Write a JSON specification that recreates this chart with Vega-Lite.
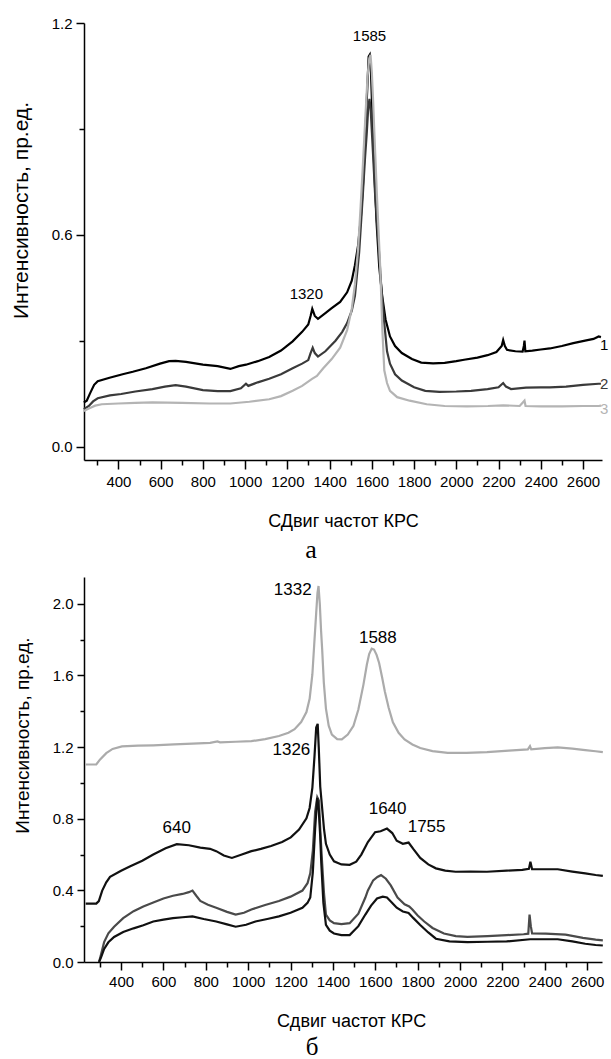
{
  "$schema": "https://vega.github.io/schema/vega-lite/v6.json",
  "padding": {"left": 10, "top": 16, "right": 5, "bottom": 2},
  "spacing": 14,
  "config": {
    "view": {"stroke": null},
    "font": "Liberation Sans",
    "axis": {
      "labelFont": "Liberation Sans",
      "titleFont": "Liberation Sans",
      "labelFontSize": 15,
      "titleFontSize": 18,
      "titleFontWeight": "normal",
      "labelColor": "#000000",
      "titleColor": "#000000",
      "domainColor": "#000000",
      "tickColor": "#000000",
      "domainWidth": 1.5,
      "tickWidth": 1.5,
      "grid": false,
      "labelOverlap": false,
      "labelFlush": false,
      "tickCount": 100
    }
  },
  "datasets": {
    "a": [
      {"s":"1","x":236,"y":0.125},{"s":"1","x":250,"y":0.13},{"s":"1","x":265,"y":0.15},{"s":"1","x":285,"y":0.175},{"s":"1","x":302,"y":0.185},{"s":"1","x":358,"y":0.195},{"s":"1","x":420,"y":0.205},{"s":"1","x":468,"y":0.212},{"s":"1","x":530,"y":0.222},{"s":"1","x":597,"y":0.235},{"s":"1","x":640,"y":0.242},{"s":"1","x":671,"y":0.243},{"s":"1","x":720,"y":0.24},{"s":"1","x":800,"y":0.232},{"s":"1","x":870,"y":0.228},{"s":"1","x":930,"y":0.22},{"s":"1","x":970,"y":0.228},{"s":"1","x":1004,"y":0.232},{"s":"1","x":1060,"y":0.242},{"s":"1","x":1114,"y":0.254},{"s":"1","x":1170,"y":0.272},{"s":"1","x":1225,"y":0.298},{"s":"1","x":1270,"y":0.325},{"s":"1","x":1299,"y":0.346},{"s":"1","x":1310,"y":0.37},{"s":"1","x":1318,"y":0.39},{"s":"1","x":1330,"y":0.37},{"s":"1","x":1345,"y":0.362},{"s":"1","x":1380,"y":0.378},{"s":"1","x":1410,"y":0.392},{"s":"1","x":1450,"y":0.41},{"s":"1","x":1483,"y":0.437},{"s":"1","x":1505,"y":0.47},{"s":"1","x":1520,"y":0.514},{"s":"1","x":1535,"y":0.57},{"s":"1","x":1548,"y":0.648},{"s":"1","x":1558,"y":0.74},{"s":"1","x":1566,"y":0.84},{"s":"1","x":1576,"y":0.98},{"s":"1","x":1585,"y":1.105},{"s":"1","x":1590,"y":1.11},{"s":"1","x":1596,"y":1.06},{"s":"1","x":1603,"y":0.936},{"s":"1","x":1612,"y":0.78},{"s":"1","x":1622,"y":0.64},{"s":"1","x":1635,"y":0.51},{"s":"1","x":1649,"y":0.427},{"s":"1","x":1665,"y":0.36},{"s":"1","x":1686,"y":0.312},{"s":"1","x":1710,"y":0.285},{"s":"1","x":1742,"y":0.265},{"s":"1","x":1790,"y":0.248},{"s":"1","x":1834,"y":0.238},{"s":"1","x":1890,"y":0.236},{"s":"1","x":1945,"y":0.237},{"s":"1","x":2000,"y":0.242},{"s":"1","x":2037,"y":0.246},{"s":"1","x":2100,"y":0.252},{"s":"1","x":2148,"y":0.259},{"s":"1","x":2190,"y":0.268},{"s":"1","x":2215,"y":0.285},{"s":"1","x":2222,"y":0.302},{"s":"1","x":2230,"y":0.285},{"s":"1","x":2240,"y":0.274},{"s":"1","x":2280,"y":0.27},{"s":"1","x":2314,"y":0.269},{"s":"1","x":2320,"y":0.285},{"s":"1","x":2323,"y":0.3},{"s":"1","x":2327,"y":0.27},{"s":"1","x":2360,"y":0.272},{"s":"1","x":2400,"y":0.275},{"s":"1","x":2443,"y":0.278},{"s":"1","x":2500,"y":0.285},{"s":"1","x":2554,"y":0.293},{"s":"1","x":2610,"y":0.3},{"s":"1","x":2650,"y":0.305},{"s":"1","x":2674,"y":0.312},{"s":"1","x":2685,"y":0.31},
      {"s":"2","x":236,"y":0.106},{"s":"2","x":260,"y":0.115},{"s":"2","x":280,"y":0.128},{"s":"2","x":302,"y":0.137},{"s":"2","x":360,"y":0.145},{"s":"2","x":413,"y":0.149},{"s":"2","x":480,"y":0.156},{"s":"2","x":561,"y":0.163},{"s":"2","x":620,"y":0.17},{"s":"2","x":671,"y":0.174},{"s":"2","x":720,"y":0.17},{"s":"2","x":800,"y":0.16},{"s":"2","x":870,"y":0.157},{"s":"2","x":930,"y":0.157},{"s":"2","x":980,"y":0.165},{"s":"2","x":1004,"y":0.178},{"s":"2","x":1015,"y":0.172},{"s":"2","x":1060,"y":0.182},{"s":"2","x":1114,"y":0.192},{"s":"2","x":1170,"y":0.205},{"s":"2","x":1225,"y":0.222},{"s":"2","x":1270,"y":0.235},{"s":"2","x":1299,"y":0.245},{"s":"2","x":1310,"y":0.265},{"s":"2","x":1320,"y":0.28},{"s":"2","x":1330,"y":0.265},{"s":"2","x":1345,"y":0.255},{"s":"2","x":1380,"y":0.27},{"s":"2","x":1428,"y":0.3},{"s":"2","x":1460,"y":0.325},{"s":"2","x":1483,"y":0.35},{"s":"2","x":1505,"y":0.385},{"s":"2","x":1520,"y":0.427},{"s":"2","x":1540,"y":0.55},{"s":"2","x":1557,"y":0.71},{"s":"2","x":1568,"y":0.82},{"s":"2","x":1576,"y":0.888},{"s":"2","x":1583,"y":0.96},{"s":"2","x":1589,"y":0.985},{"s":"2","x":1595,"y":0.95},{"s":"2","x":1603,"y":0.86},{"s":"2","x":1615,"y":0.72},{"s":"2","x":1631,"y":0.58},{"s":"2","x":1645,"y":0.45},{"s":"2","x":1659,"y":0.35},{"s":"2","x":1672,"y":0.27},{"s":"2","x":1686,"y":0.235},{"s":"2","x":1710,"y":0.205},{"s":"2","x":1742,"y":0.187},{"s":"2","x":1800,"y":0.168},{"s":"2","x":1853,"y":0.158},{"s":"2","x":1920,"y":0.155},{"s":"2","x":2000,"y":0.156},{"s":"2","x":2070,"y":0.158},{"s":"2","x":2148,"y":0.163},{"s":"2","x":2200,"y":0.168},{"s":"2","x":2222,"y":0.18},{"s":"2","x":2235,"y":0.17},{"s":"2","x":2259,"y":0.163},{"s":"2","x":2330,"y":0.167},{"s":"2","x":2400,"y":0.168},{"s":"2","x":2443,"y":0.168},{"s":"2","x":2520,"y":0.17},{"s":"2","x":2600,"y":0.175},{"s":"2","x":2674,"y":0.178},{"s":"2","x":2685,"y":0.178},
      {"s":"3","x":236,"y":0.101},{"s":"3","x":260,"y":0.108},{"s":"3","x":290,"y":0.116},{"s":"3","x":321,"y":0.12},{"s":"3","x":400,"y":0.122},{"s":"3","x":480,"y":0.124},{"s":"3","x":561,"y":0.125},{"s":"3","x":700,"y":0.124},{"s":"3","x":830,"y":0.122},{"s":"3","x":930,"y":0.122},{"s":"3","x":1020,"y":0.127},{"s":"3","x":1114,"y":0.134},{"s":"3","x":1170,"y":0.143},{"s":"3","x":1225,"y":0.158},{"s":"3","x":1270,"y":0.172},{"s":"3","x":1317,"y":0.192},{"s":"3","x":1340,"y":0.2},{"s":"3","x":1370,"y":0.222},{"s":"3","x":1410,"y":0.248},{"s":"3","x":1450,"y":0.28},{"s":"3","x":1483,"y":0.33},{"s":"3","x":1505,"y":0.39},{"s":"3","x":1520,"y":0.46},{"s":"3","x":1535,"y":0.56},{"s":"3","x":1547,"y":0.68},{"s":"3","x":1557,"y":0.79},{"s":"3","x":1570,"y":0.94},{"s":"3","x":1580,"y":1.05},{"s":"3","x":1588,"y":1.1},{"s":"3","x":1594,"y":1.11},{"s":"3","x":1600,"y":1.06},{"s":"3","x":1606,"y":0.98},{"s":"3","x":1612,"y":0.888},{"s":"3","x":1625,"y":0.7},{"s":"3","x":1640,"y":0.504},{"s":"3","x":1650,"y":0.33},{"s":"3","x":1659,"y":0.216},{"s":"3","x":1672,"y":0.18},{"s":"3","x":1686,"y":0.158},{"s":"3","x":1720,"y":0.14},{"s":"3","x":1779,"y":0.13},{"s":"3","x":1860,"y":0.12},{"s":"3","x":1945,"y":0.115},{"s":"3","x":2050,"y":0.114},{"s":"3","x":2150,"y":0.115},{"s":"3","x":2222,"y":0.117},{"s":"3","x":2300,"y":0.115},{"s":"3","x":2323,"y":0.13},{"s":"3","x":2328,"y":0.115},{"s":"3","x":2400,"y":0.114},{"s":"3","x":2500,"y":0.114},{"s":"3","x":2600,"y":0.115},{"s":"3","x":2674,"y":0.115},{"s":"3","x":2685,"y":0.116}
    ],
    "la": [
      {"t":"1585","x":1589,"y":1.162,"c":"k"},
      {"t":"1320","x":1290,"y":0.432,"c":"k"},
      {"t":"1","x":2700,"y":0.288,"c":"1"},
      {"t":"2","x":2700,"y":0.178,"c":"2"},
      {"t":"3","x":2700,"y":0.106,"c":"3"}
    ],
    "b": [
      {"s":"A","x":233,"y":1.103},{"s":"A","x":283,"y":1.103},{"s":"A","x":300,"y":1.13},{"s":"A","x":330,"y":1.166},{"s":"A","x":360,"y":1.19},{"s":"A","x":404,"y":1.204},{"s":"A","x":480,"y":1.208},{"s":"A","x":552,"y":1.21},{"s":"A","x":650,"y":1.215},{"s":"A","x":737,"y":1.22},{"s":"A","x":820,"y":1.224},{"s":"A","x":855,"y":1.232},{"s":"A","x":867,"y":1.227},{"s":"A","x":940,"y":1.23},{"s":"A","x":1015,"y":1.233},{"s":"A","x":1080,"y":1.245},{"s":"A","x":1145,"y":1.262},{"s":"A","x":1190,"y":1.28},{"s":"A","x":1219,"y":1.3},{"s":"A","x":1250,"y":1.34},{"s":"A","x":1275,"y":1.396},{"s":"A","x":1290,"y":1.47},{"s":"A","x":1303,"y":1.607},{"s":"A","x":1312,"y":1.78},{"s":"A","x":1321,"y":1.95},{"s":"A","x":1327,"y":2.06},{"s":"A","x":1332,"y":2.1},{"s":"A","x":1338,"y":2.0},{"s":"A","x":1344,"y":1.85},{"s":"A","x":1349,"y":1.75},{"s":"A","x":1357,"y":1.56},{"s":"A","x":1367,"y":1.415},{"s":"A","x":1380,"y":1.32},{"s":"A","x":1395,"y":1.27},{"s":"A","x":1420,"y":1.245},{"s":"A","x":1442,"y":1.243},{"s":"A","x":1470,"y":1.27},{"s":"A","x":1497,"y":1.319},{"s":"A","x":1520,"y":1.41},{"s":"A","x":1544,"y":1.549},{"s":"A","x":1560,"y":1.66},{"s":"A","x":1571,"y":1.72},{"s":"A","x":1583,"y":1.75},{"s":"A","x":1594,"y":1.745},{"s":"A","x":1606,"y":1.715},{"s":"A","x":1618,"y":1.67},{"s":"A","x":1632,"y":1.59},{"s":"A","x":1645,"y":1.511},{"s":"A","x":1663,"y":1.42},{"s":"A","x":1683,"y":1.338},{"s":"A","x":1710,"y":1.28},{"s":"A","x":1738,"y":1.243},{"s":"A","x":1775,"y":1.215},{"s":"A","x":1812,"y":1.195},{"s":"A","x":1870,"y":1.178},{"s":"A","x":1942,"y":1.168},{"s":"A","x":2030,"y":1.168},{"s":"A","x":2127,"y":1.172},{"s":"A","x":2230,"y":1.18},{"s":"A","x":2320,"y":1.187},{"s":"A","x":2330,"y":1.205},{"s":"A","x":2336,"y":1.187},{"s":"A","x":2400,"y":1.194},{"s":"A","x":2461,"y":1.198},{"s":"A","x":2530,"y":1.192},{"s":"A","x":2591,"y":1.183},{"s":"A","x":2640,"y":1.177},{"s":"A","x":2674,"y":1.172},
      {"s":"B","x":233,"y":0.326},{"s":"B","x":283,"y":0.326},{"s":"B","x":295,"y":0.34},{"s":"B","x":311,"y":0.399},{"s":"B","x":330,"y":0.445},{"s":"B","x":348,"y":0.476},{"s":"B","x":400,"y":0.51},{"s":"B","x":441,"y":0.533},{"s":"B","x":500,"y":0.565},{"s":"B","x":552,"y":0.6},{"s":"B","x":610,"y":0.635},{"s":"B","x":663,"y":0.658},{"s":"B","x":720,"y":0.652},{"s":"B","x":774,"y":0.639},{"s":"B","x":820,"y":0.632},{"s":"B","x":849,"y":0.619},{"s":"B","x":885,"y":0.595},{"s":"B","x":923,"y":0.581},{"s":"B","x":970,"y":0.6},{"s":"B","x":1015,"y":0.619},{"s":"B","x":1060,"y":0.632},{"s":"B","x":1108,"y":0.648},{"s":"B","x":1160,"y":0.67},{"s":"B","x":1201,"y":0.696},{"s":"B","x":1240,"y":0.74},{"s":"B","x":1275,"y":0.802},{"s":"B","x":1290,"y":0.86},{"s":"B","x":1303,"y":0.974},{"s":"B","x":1313,"y":1.15},{"s":"B","x":1321,"y":1.31},{"s":"B","x":1328,"y":1.33},{"s":"B","x":1333,"y":1.2},{"s":"B","x":1340,"y":0.98},{"s":"B","x":1349,"y":0.86},{"s":"B","x":1358,"y":0.74},{"s":"B","x":1367,"y":0.66},{"s":"B","x":1385,"y":0.6},{"s":"B","x":1405,"y":0.562},{"s":"B","x":1440,"y":0.545},{"s":"B","x":1479,"y":0.543},{"s":"B","x":1510,"y":0.56},{"s":"B","x":1534,"y":0.6},{"s":"B","x":1565,"y":0.67},{"s":"B","x":1599,"y":0.725},{"s":"B","x":1625,"y":0.73},{"s":"B","x":1655,"y":0.745},{"s":"B","x":1680,"y":0.72},{"s":"B","x":1701,"y":0.677},{"s":"B","x":1730,"y":0.66},{"s":"B","x":1757,"y":0.667},{"s":"B","x":1780,"y":0.63},{"s":"B","x":1812,"y":0.581},{"s":"B","x":1850,"y":0.545},{"s":"B","x":1886,"y":0.523},{"s":"B","x":1930,"y":0.51},{"s":"B","x":1979,"y":0.504},{"s":"B","x":2050,"y":0.505},{"s":"B","x":2127,"y":0.504},{"s":"B","x":2220,"y":0.51},{"s":"B","x":2294,"y":0.514},{"s":"B","x":2325,"y":0.52},{"s":"B","x":2332,"y":0.56},{"s":"B","x":2340,"y":0.518},{"s":"B","x":2400,"y":0.518},{"s":"B","x":2461,"y":0.518},{"s":"B","x":2530,"y":0.505},{"s":"B","x":2591,"y":0.495},{"s":"B","x":2640,"y":0.486},{"s":"B","x":2674,"y":0.481},
      {"s":"C","x":296,"y":0.0},{"s":"C","x":305,"y":0.04},{"s":"C","x":320,"y":0.111},{"s":"C","x":340,"y":0.16},{"s":"C","x":367,"y":0.197},{"s":"C","x":410,"y":0.245},{"s":"C","x":459,"y":0.284},{"s":"C","x":505,"y":0.31},{"s":"C","x":552,"y":0.332},{"s":"C","x":600,"y":0.355},{"s":"C","x":645,"y":0.37},{"s":"C","x":690,"y":0.38},{"s":"C","x":720,"y":0.39},{"s":"C","x":737,"y":0.399},{"s":"C","x":755,"y":0.37},{"s":"C","x":774,"y":0.341},{"s":"C","x":810,"y":0.32},{"s":"C","x":849,"y":0.303},{"s":"C","x":900,"y":0.28},{"s":"C","x":941,"y":0.265},{"s":"C","x":980,"y":0.275},{"s":"C","x":1015,"y":0.293},{"s":"C","x":1080,"y":0.318},{"s":"C","x":1145,"y":0.341},{"s":"C","x":1200,"y":0.365},{"s":"C","x":1256,"y":0.399},{"s":"C","x":1280,"y":0.44},{"s":"C","x":1293,"y":0.495},{"s":"C","x":1305,"y":0.62},{"s":"C","x":1316,"y":0.84},{"s":"C","x":1326,"y":0.92},{"s":"C","x":1334,"y":0.9},{"s":"C","x":1341,"y":0.72},{"s":"C","x":1349,"y":0.552},{"s":"C","x":1358,"y":0.38},{"s":"C","x":1367,"y":0.265},{"s":"C","x":1385,"y":0.232},{"s":"C","x":1405,"y":0.217},{"s":"C","x":1440,"y":0.212},{"s":"C","x":1479,"y":0.217},{"s":"C","x":1520,"y":0.27},{"s":"C","x":1553,"y":0.36},{"s":"C","x":1565,"y":0.4},{"s":"C","x":1590,"y":0.456},{"s":"C","x":1610,"y":0.475},{"s":"C","x":1627,"y":0.485},{"s":"C","x":1650,"y":0.465},{"s":"C","x":1673,"y":0.428},{"s":"C","x":1705,"y":0.36},{"s":"C","x":1738,"y":0.322},{"s":"C","x":1760,"y":0.31},{"s":"C","x":1775,"y":0.293},{"s":"C","x":1800,"y":0.26},{"s":"C","x":1831,"y":0.226},{"s":"C","x":1870,"y":0.19},{"s":"C","x":1924,"y":0.159},{"s":"C","x":1980,"y":0.145},{"s":"C","x":2035,"y":0.14},{"s":"C","x":2130,"y":0.145},{"s":"C","x":2220,"y":0.15},{"s":"C","x":2300,"y":0.155},{"s":"C","x":2322,"y":0.158},{"s":"C","x":2328,"y":0.265},{"s":"C","x":2334,"y":0.2},{"s":"C","x":2340,"y":0.16},{"s":"C","x":2405,"y":0.159},{"s":"C","x":2498,"y":0.153},{"s":"C","x":2580,"y":0.135},{"s":"C","x":2640,"y":0.125},{"s":"C","x":2674,"y":0.121},
      {"s":"D","x":296,"y":0.0},{"s":"D","x":305,"y":0.025},{"s":"D","x":320,"y":0.073},{"s":"D","x":340,"y":0.11},{"s":"D","x":367,"y":0.14},{"s":"D","x":410,"y":0.168},{"s":"D","x":459,"y":0.188},{"s":"D","x":505,"y":0.205},{"s":"D","x":552,"y":0.226},{"s":"D","x":600,"y":0.237},{"s":"D","x":645,"y":0.245},{"s":"D","x":690,"y":0.25},{"s":"D","x":737,"y":0.255},{"s":"D","x":790,"y":0.24},{"s":"D","x":849,"y":0.226},{"s":"D","x":900,"y":0.21},{"s":"D","x":941,"y":0.197},{"s":"D","x":990,"y":0.208},{"s":"D","x":1034,"y":0.226},{"s":"D","x":1090,"y":0.24},{"s":"D","x":1145,"y":0.255},{"s":"D","x":1200,"y":0.275},{"s":"D","x":1256,"y":0.303},{"s":"D","x":1280,"y":0.33},{"s":"D","x":1293,"y":0.36},{"s":"D","x":1305,"y":0.5},{"s":"D","x":1316,"y":0.744},{"s":"D","x":1326,"y":0.917},{"s":"D","x":1333,"y":0.85},{"s":"D","x":1340,"y":0.7},{"s":"D","x":1345,"y":0.552},{"s":"D","x":1355,"y":0.33},{"s":"D","x":1367,"y":0.207},{"s":"D","x":1385,"y":0.175},{"s":"D","x":1405,"y":0.159},{"s":"D","x":1440,"y":0.15},{"s":"D","x":1479,"y":0.15},{"s":"D","x":1520,"y":0.2},{"s":"D","x":1553,"y":0.265},{"s":"D","x":1580,"y":0.315},{"s":"D","x":1608,"y":0.355},{"s":"D","x":1635,"y":0.365},{"s":"D","x":1655,"y":0.36},{"s":"D","x":1680,"y":0.33},{"s":"D","x":1701,"y":0.303},{"s":"D","x":1730,"y":0.282},{"s":"D","x":1757,"y":0.274},{"s":"D","x":1780,"y":0.245},{"s":"D","x":1812,"y":0.207},{"s":"D","x":1850,"y":0.165},{"s":"D","x":1886,"y":0.13},{"s":"D","x":1950,"y":0.115},{"s":"D","x":2035,"y":0.111},{"s":"D","x":2130,"y":0.113},{"s":"D","x":2220,"y":0.115},{"s":"D","x":2331,"y":0.127},{"s":"D","x":2400,"y":0.127},{"s":"D","x":2461,"y":0.127},{"s":"D","x":2530,"y":0.115},{"s":"D","x":2591,"y":0.102},{"s":"D","x":2640,"y":0.095},{"s":"D","x":2674,"y":0.092}
    ],
    "lb": [
      {"t":"1332","x":1210,"y":2.076},
      {"t":"1588","x":1612,"y":1.812},
      {"t":"1326","x":1204,"y":1.185},
      {"t":"640","x":663,"y":0.75},
      {"t":"1640","x":1658,"y":0.855},
      {"t":"1755","x":1842,"y":0.754}
    ]
  },
  "vconcat": [
    {
      "width": 518,
      "height": 437,
      "title": {"text": "а", "orient": "bottom", "font": "Liberation Serif", "fontSize": 26, "fontWeight": "normal", "color": "#000000", "offset": 7, "dx": -32},
      "layer": [
        {
          "data": {"name": "a"},
          "mark": {"type": "line", "strokeWidth": 2.2},
          "encoding": {
            "x": {"field": "x", "type": "quantitative",
              "scale": {"domain": [237, 2690], "nice": false, "zero": false},
              "axis": {"title": "СДвиг частот КРС", "tickCount": 100, "values": [300,400,500,600,700,800,900,1000,1100,1200,1300,1400,1500,1600,1700,1800,1900,2000,2100,2200,2300,2400,2500,2600], "format": "d",
                "labelExpr": "datum.value % 200 == 0 ? datum.label : ''",
                "tickSize": {"condition": {"test": "datum.value % 200 == 0", "value": 9}, "value": 5},
                "labelPadding": 5, "titlePadding": 23}},
            "y": {"field": "y", "type": "quantitative",
              "scale": {"domain": [-0.038, 1.2], "nice": false, "zero": false},
              "axis": {"title": "Интенсивность, пр.ед.", "tickCount": 100, "titleFontSize": 21, "titleY": 187, "values": [0, 0.3, 0.6, 0.9, 1.2], "format": ".1f",
                "labelExpr": "round(datum.value * 10) % 6 == 0 ? datum.label : ''",
                "tickSize": {"condition": {"test": "round(datum.value * 10) % 6 == 0", "value": 8}, "value": 5},
                "labelPadding": 4, "titlePadding": 20}},
            "color": {"field": "s", "type": "nominal", "scale": {"domain": ["1", "2", "3"], "range": ["#000000", "#3a3a3a", "#b4b4b4"]}, "legend": null},
            "order": {"field": "x", "type": "quantitative"}
          }
        },
        {
          "data": {"name": "la"},
          "mark": {"type": "text", "fontSize": 15, "font": "Liberation Sans", "align": "center", "baseline": "middle"},
          "encoding": {
            "x": {"field": "x", "type": "quantitative"},
            "y": {"field": "y", "type": "quantitative"},
            "text": {"field": "t"},
            "color": {"field": "c", "type": "nominal", "scale": {"domain": ["k", "1", "2", "3"], "range": ["#000000", "#000000", "#3a3a3a", "#b4b4b4"]}, "legend": null}
          }
        }
      ],
      "resolve": {"scale": {"color": "independent"}}
    },
    {
      "width": 518,
      "height": 385,
      "title": {"text": "б", "orient": "bottom", "font": "Liberation Serif", "fontSize": 25, "fontWeight": "normal", "color": "#000000", "offset": 5, "dx": -31},
      "layer": [
        {
          "data": {"name": "b"},
          "mark": {"type": "line", "strokeWidth": 2.2},
          "encoding": {
            "x": {"field": "x", "type": "quantitative",
              "scale": {"domain": [225, 2670], "nice": false, "zero": false},
              "axis": {"title": "Сдвиг частот КРС", "tickCount": 100, "titleX": 267, "values": [300,400,500,600,700,800,900,1000,1100,1200,1300,1400,1500,1600,1700,1800,1900,2000,2100,2200,2300,2400,2500,2600], "format": "d",
                "labelExpr": "datum.value % 200 == 0 ? datum.label : ''",
                "tickSize": {"condition": {"test": "datum.value % 200 == 0", "value": 8}, "value": 5},
                "labelPadding": 4, "titlePadding": 23}},
            "y": {"field": "y", "type": "quantitative",
              "scale": {"domain": [0, 2.15], "nice": false, "zero": false},
              "axis": {"title": "Интенсивность, пр.ед.", "tickCount": 100, "titleFontSize": 19, "titleY": 158, "values": [0, 0.2, 0.4, 0.6, 0.8, 1.0, 1.2, 1.4, 1.6, 1.8, 2.0], "format": ".1f",
                "labelExpr": "round(datum.value * 10) % 4 == 0 ? datum.label : ''",
                "tickSize": {"condition": {"test": "round(datum.value * 10) % 4 == 0", "value": 7}, "value": 4},
                "labelPadding": 4, "titlePadding": 20}},
            "color": {"field": "s", "type": "nominal", "scale": {"domain": ["A", "B", "C", "D"], "range": ["#ababab", "#111111", "#4a4a4a", "#111111"]}, "legend": null},
            "order": {"field": "x", "type": "quantitative"}
          }
        },
        {
          "data": {"name": "lb"},
          "mark": {"type": "text", "fontSize": 17, "font": "Liberation Sans", "align": "center", "baseline": "middle", "color": "#000000"},
          "encoding": {
            "x": {"field": "x", "type": "quantitative"},
            "y": {"field": "y", "type": "quantitative"},
            "text": {"field": "t"}
          }
        }
      ]
    }
  ]
}
